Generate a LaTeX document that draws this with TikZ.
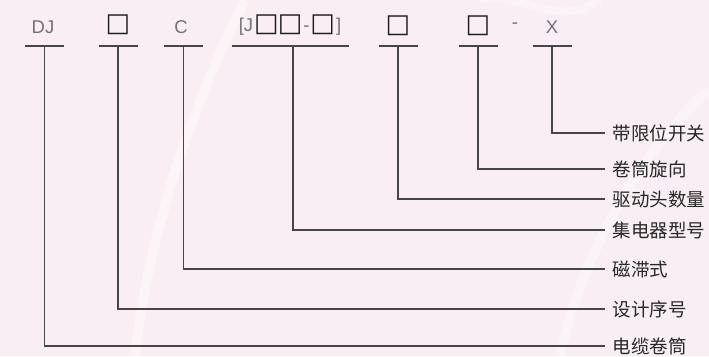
\documentclass[tikz,border=0pt]{standalone}
\usepackage{fontspec}
\setmainfont{Liberation Sans}
\newfontfamily\cjk{Noto Sans CJK SC}
\newfontfamily\symf{DejaVu Sans}
\definecolor{bgpink}{RGB}{248,238,243}
\definecolor{toptext}{RGB}{115,115,115}
\definecolor{boxc}{RGB}{30,30,30}
\definecolor{linec}{RGB}{70,70,70}
\definecolor{labc}{RGB}{40,40,40}
\newcommand{\bx}{{\symf\color{boxc}\fontsize{26}{26}\selectfont □}}
\begin{document}
\begin{tikzpicture}[x=1pt,y=-1pt,
  toplab/.style={inner sep=0pt, text=toptext, font=\fontsize{18.5}{18.5}\selectfont},
  lab/.style={anchor=west, inner xsep=7.5pt, inner ysep=0pt, text=labc, font=\cjk\fontsize{18.5}{18.5}\selectfont},
  bar/.style={draw=linec, line width=1.1pt},
  conn/.style={draw=linec, line width=1.1pt}]
\fill[bgpink] (0,0) rectangle (709,356);
\useasboundingbox (0,0) rectangle (709,356);
% faint sheen
\draw[white, opacity=0.45, line width=10pt] (135,356) .. controls (150,220) and (200,90) .. (245,0);
\draw[white, opacity=0.35, line width=8pt] (480,0) .. controls (520,-10) and (560,30) .. (600,0);
\draw[white, opacity=0.35, line width=10pt] (560,356) .. controls (580,260) and (640,150) .. (709,90);
% top texts
\node[toplab] (t1) at (43,27) {DJ};
\node[toplab] (t2) at (118,25) {\bx};
\node[toplab] (t3) at (181,27) {C};
\node[toplab] (t4) at (290,25) {[J\kern1pt\bx\kern-1pt\bx\kern1pt-\kern1pt\bx\kern1pt]};
\node[toplab] (t5) at (398,26) {\bx};
\node[toplab] (t6) at (478,26) {\bx};
\node[toplab] (t7) at (515,26) {-};
\node[toplab] (t8) at (552,27) {X};
% bars
\coordinate (b1) at (44.5,46);
\coordinate (b2) at (118,46);
\coordinate (b3) at (183.5,46);
\coordinate (b4) at (293,46);
\coordinate (b5) at (398,46);
\coordinate (b6) at (478,46);
\coordinate (b7) at (552,46);
\draw[bar] ([xshift=-19.5]b1) -- ([xshift=19.5]b1);
\draw[bar] ([xshift=-19.5]b2) -- ([xshift=19.5]b2);
\draw[bar] ([xshift=-19.5]b3) -- ([xshift=19.5]b3);
\draw[bar] (232,46) -- (349,46);
\draw[bar] ([xshift=-19.5]b5) -- ([xshift=19.5]b5);
\draw[bar] ([xshift=-19.5]b6) -- ([xshift=19.5]b6);
\draw[bar] ([xshift=-19.5]b7) -- ([xshift=19.5]b7);
% labels
\node[lab] (l1) at (605,133) {带限位开关};
\node[lab] (l2) at (605,169) {卷筒旋向};
\node[lab] (l3) at (605,199) {驱动头数量};
\node[lab] (l4) at (605,230) {集电器型号};
\node[lab] (l5) at (605,269) {磁滞式};
\node[lab] (l6) at (605,309) {设计序号};
\node[lab] (l7) at (605,346) {电缆卷筒};
% connectors
\draw[conn] (b7) |- (l1.west);
\draw[conn] (b6) |- (l2.west);
\draw[conn] (b5) |- (l3.west);
\draw[conn] (b4) |- (l4.west);
\draw[conn] (b3) |- (l5.west);
\draw[conn] (b2) |- (l6.west);
\draw[conn] (b1) |- (l7.west);
\end{tikzpicture}
\end{document}
